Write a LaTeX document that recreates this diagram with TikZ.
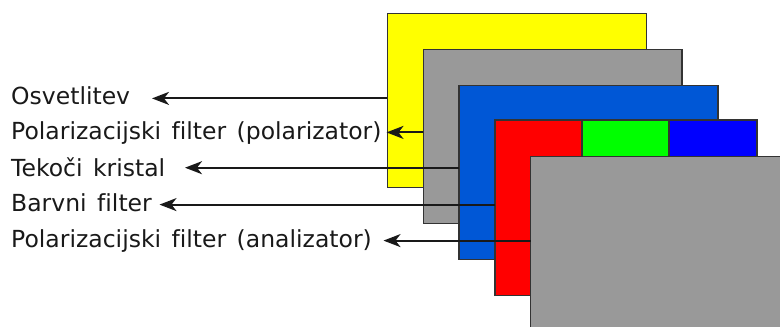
\documentclass[tikz,border=0pt]{standalone}
\usepackage{fontspec}
\setmainfont{DejaVu Sans}[Ligatures=NoCommon,WordSpace=1.4]
\usetikzlibrary{arrows.meta}
\definecolor{pyel}{RGB}{255,255,0}
\definecolor{pgra}{RGB}{153,153,153}
\definecolor{pblu}{RGB}{0,87,214}
\definecolor{prd}{RGB}{255,0,0}
\definecolor{pgr}{RGB}{0,255,0}
\definecolor{pbl}{RGB}{0,0,255}
\tikzset{
  panel/.style={draw=black!80,line width=1.5pt,inner sep=0pt,outer sep=0pt,anchor=north west},
  lab/.style={anchor=base west,inner sep=0pt,font=\fontsize{23.5}{28}\selectfont,text=black!90},
  ptr/.style={line width=2.1pt,draw=black!90,-{Stealth[length=17pt,width=13pt,inset=5pt]}}
}
\begin{document}
\begin{tikzpicture}[x=1pt,y=-1pt]
\useasboundingbox (0,0) rectangle (780,327);
\node[panel,fill=pyel,minimum width=259pt,minimum height=174.4pt] (pa) at (387.3,13.3) {};
\node[panel,fill=pgra,minimum width=258.7pt,minimum height=174pt] (pb) at (423.3,49.3) {};
\node[panel,fill=pblu,minimum width=259pt,minimum height=174pt] (pc) at (459,85.3) {};
\node[panel,fill=prd,minimum width=87pt,minimum height=175.3pt] (pr) at (495,120) {};
\node[panel,fill=pgr,minimum width=87pt,minimum height=175.3pt] (pg) at (582,120) {};
\node[panel,fill=pbl,minimum width=88pt,minimum height=175.3pt] (pu) at (669,120) {};
\node[panel,fill=pgra,minimum width=260pt,minimum height=180pt] (pd) at (530.5,156.7) {};
\node[lab] (l1) at (11,104.3) {Osvetlitev};
\node[lab] (l2) at (11,139.5) {Polarizacijski filter (polarizator)};
\node[lab] (l3) at (11,176) {Tekoči kristal};
\node[lab] (l4) at (11,211.7) {Barvni filter};
\node[lab] (l5) at (11,247.5) {Polarizacijski filter (analizator)};
\coordinate (t1) at (152,98.4);
\coordinate (t2) at (386.5,132.4);
\coordinate (t3) at (185,167.7);
\coordinate (t4) at (159.5,204.6);
\coordinate (t5) at (383.5,240.6);
\draw[ptr] (t1 -| pa.west) -- (t1);
\draw[ptr] (t2 -| pb.west) -- (t2);
\draw[ptr] (t3 -| pc.west) -- (t3);
\draw[ptr] (t4 -| pr.west) -- (t4);
\draw[ptr] (t5 -| pd.west) -- (t5);
\end{tikzpicture}
\end{document}
